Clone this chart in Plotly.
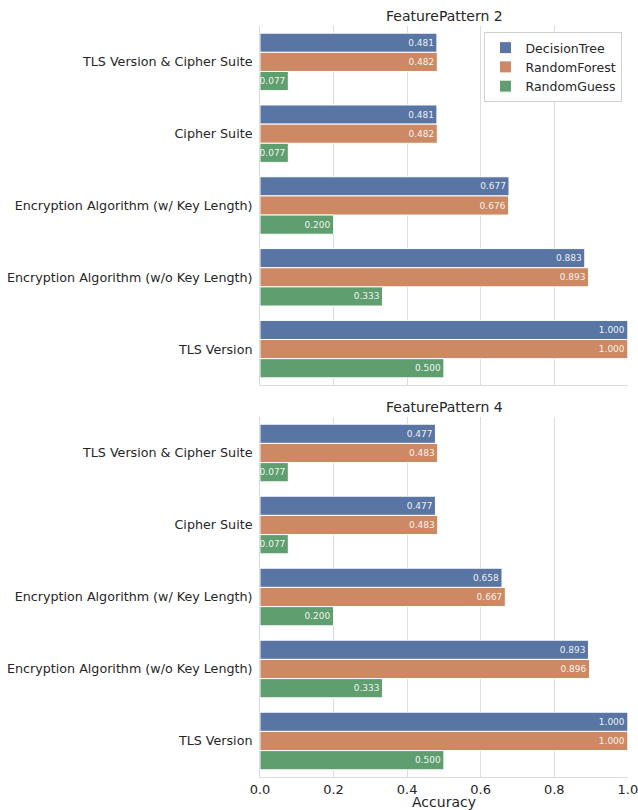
import plotly.graph_objects as go
from plotly.subplots import make_subplots

categories = [
    "TLS Version & Cipher Suite",
    "Cipher Suite",
    "Encryption Algorithm (w/ Key Length)",
    "Encryption Algorithm (w/o Key Length)",
    "TLS Version",
]
models = ["DecisionTree", "RandomForest", "RandomGuess"]
colors = ["#5875a4", "#cc8963", "#5f9e6e"]

fp2_decision_tree = [0.481, 0.481, 0.677, 0.883, 1.000]
fp2_random_forest = [0.482, 0.482, 0.676, 0.893, 1.000]
fp2_random_guess = [0.077, 0.077, 0.200, 0.333, 0.500]

fp4_decision_tree = [0.477, 0.477, 0.658, 0.893, 1.000]
fp4_random_forest = [0.483, 0.483, 0.667, 0.896, 1.000]
fp4_random_guess = [0.077, 0.077, 0.200, 0.333, 0.500]

panel_titles = ["FeaturePattern 2", "FeaturePattern 4"]
x_ticks = [0.0, 0.2, 0.4, 0.6, 0.8, 1.0]

panels = [
    [fp2_decision_tree, fp2_random_forest, fp2_random_guess],
    [fp4_decision_tree, fp4_random_forest, fp4_random_guess],
]

FONT = "DejaVu Sans"
TEXT = "#262626"
GRID = "#dcdcdc"

fig = make_subplots(rows=2, cols=1, shared_xaxes=False, vertical_spacing=0.0)

for row, series in enumerate(panels, start=1):
    for name, vals, col in zip(models, series, colors):
        fig.add_trace(
            go.Bar(
                y=categories,
                x=vals,
                name=name,
                orientation="h",
                marker=dict(color=col, line=dict(color="white", width=1)),
                text=vals,
                texttemplate="%{x:.3f}",
                textposition="inside",
                insidetextanchor="end",
                constraintext="none",
                textfont=dict(family=FONT, size=9, color="rgba(255,255,255,0.92)"),
                showlegend=(row == 1),
                legendgroup=name,
                hoverinfo="skip",
            ),
            row=row,
            col=1,
        )

# panel layout: top panel 26-385 px, bottom panel 417-777 px of an 810 px page
H = 751.0
top_dom = [1 - 359 / H, 1.0]
bot_dom = [0.0, 360 / H]

axis_common = dict(
    range=[0, 1.0005],
    tickvals=x_ticks,
    showgrid=True,
    gridcolor=GRID,
    gridwidth=1,
    zeroline=False,
    showline=True,
    linecolor=GRID,
    linewidth=1,
    ticks="",
    automargin=False,
    ticklabeloverflow="allow",
    tickfont=dict(family=FONT, size=13, color=TEXT),
)

fig.update_layout(
    xaxis=dict(axis_common, showticklabels=False, domain=[0, 1], anchor="y"),
    xaxis2=dict(
        axis_common,
        tickformat=".1f",
        domain=[0, 1],
        anchor="y2",
        ticklabelstandoff=0,
        title=dict(text="Accuracy", font=dict(family=FONT, size=14, color=TEXT), standoff=1),
    ),
    yaxis=dict(domain=top_dom),
    yaxis2=dict(domain=bot_dom),
)

for yname in ["yaxis", "yaxis2"]:
    fig.layout[yname].update(
        autorange="reversed",
        showgrid=False,
        zeroline=False,
        showline=True,
        linecolor=GRID,
        linewidth=1,
        ticks="",
        automargin=False,
        tickfont=dict(family=FONT, size=12.7, color=TEXT),
        ticklabelstandoff=4,
    )

fig.update_layout(
    barmode="group",
    bargap=0.2,
    bargroupgap=0.0,
    width=638,
    height=810,
    margin=dict(l=260, r=10, t=26, b=33),
    plot_bgcolor="white",
    paper_bgcolor="white",
    font=dict(family=FONT, color=TEXT),
    legend=dict(
        x=0.985,
        y=0.992,
        xanchor="right",
        yanchor="top",
        bgcolor="white",
        bordercolor="#d0d0d0",
        borderwidth=1,
        font=dict(family=FONT, size=12.5, color=TEXT),
        tracegroupgap=0,
        itemwidth=30,
    ),
)

# panel titles
for title, dom in zip(panel_titles, [top_dom, bot_dom]):
    fig.add_annotation(
        text=title,
        x=0.5,
        y=dom[1],
        xref="paper",
        yref="paper",
        xanchor="center",
        yanchor="bottom",
        yshift=0,
        showarrow=False,
        font=dict(family=FONT, size=14, color=TEXT),
    )

fig.write_html("out.html")
